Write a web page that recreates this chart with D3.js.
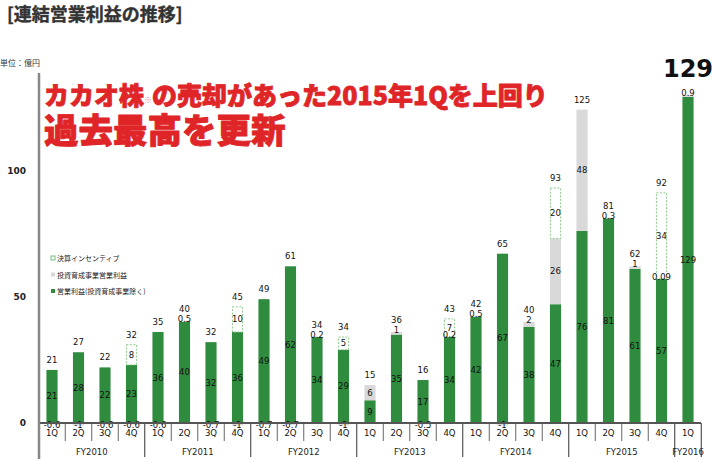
<!DOCTYPE html>
<html>
<head>
<meta charset="utf-8">
<script src="https://cdn.jsdelivr.net/npm/d3@7"></script>
<style>
  body { margin: 0; background: #fff; }
  text { font-family: "DejaVu Sans", sans-serif; }
  .jp { font-family: "Noto Sans CJK JP", sans-serif; }
</style>
</head>
<body>
<div id="chart"></div>
<script>
// --------------------------------------------------
// data (unit: 億円)

var years = ["FY2010", "FY2011", "FY2012", "FY2013", "FY2014", "FY2015", "FY2016"];
var quarters = ["1Q", "2Q", "3Q", "4Q", "1Q", "2Q", "3Q", "4Q", "1Q", "2Q", "3Q", "4Q",
    "1Q", "2Q", "3Q", "4Q", "1Q", "2Q", "3Q", "4Q", "1Q", "2Q", "3Q", "4Q", "1Q"];

// 営業利益(投資育成事業除く)
var mainProfit = [21, 28, 22, 23, 36, 40, 32, 36, 49, 62, 34, 29,
    9, 35, 17, 34, 42, 67, 38, 47, 76, 81, 61, 57, 129];
// 投資育成事業営業利益
var investProfit = [-0.6, -1, -0.6, -0.6, -0.6, 0.5, -0.7, -1, -0.7, -0.7, 0.2, -1,
    6, 1, -0.5, 0.2, 0.5, -1, 2, 26, 48, 0.3, 1, 0.09, 0.9];
// 決算インセンティブ
var incentive = [0, 0, 0, 8, 0, 0, 0, 10, 0, 0, 0, 5,
    0, 0, 0, 7, 0, 0, 0, 20, 0, 0, 0, 34, 0];
// totals printed above each bar
var totals = [21, 27, 22, 32, 35, 40, 32, 45, 49, 61, 34, 34,
    15, 36, 16, 43, 42, 65, 40, 93, 125, 81, 62, 92, 129];

var yTicks = [0, 50, 100];

var legendLabels = ["決算インセンティブ", "投資育成事業営業利益", "営業利益(投資育成事業除く)"];

var green = "#2f8b3d", gray = "#d9d9d9", dash = "#8fcb8f";

// --------------------------------------------------

var W = 712, H = 459;
var svg = d3.select("#chart").append("svg")
    .attr("width", W)
    .attr("height", H);

var keys = quarters.map(function(q, i) { return i; });

var x = d3.scaleBand()
    .domain(keys)
    .range([38.75, 701.25])
    .paddingInner(0.58)
    .paddingOuter(0.29);
var step = x.step();
function cx(i) { return x(i) + x.bandwidth() / 2; }

var y = d3.scaleLinear()
    .domain([0, 129])
    .range([423, 97]);

// title
svg.append("text")
    .attr("class", "jp")
    .attr("x", 7)
    .attr("y", 21)
    .attr("font-size", "18px")
    .attr("font-weight", "bold")
    .attr("fill", "#333")
    .attr("stroke", "#333")
    .attr("stroke-width", 0.4)
    .text("[連結営業利益の推移]");

svg.append("text")
    .attr("class", "jp")
    .attr("x", 0)
    .attr("y", 66)
    .attr("font-size", "8px")
    .attr("fill", "#333")
    .text("単位：億円");

// bars
var g = svg.append("g");

keys.forEach(function(i) {
    var m = mainProfit[i], v = investProfit[i], inc = incentive[i];
    var bx = x(i), bw = x.bandwidth();

    // green part
    g.append("rect")
        .attr("x", bx).attr("width", bw)
        .attr("y", y(m))
        .attr("height", y(0) - y(m))
        .attr("fill", green);

    // gray part (above green, or below zero when negative)
    var grayTop, grayBot;
    if (v >= 0) { grayBot = m; grayTop = m + v; }
    else { grayBot = v; grayTop = 0; }
    g.append("rect")
        .attr("x", bx).attr("width", bw)
        .attr("y", y(grayTop))
        .attr("height", y(grayBot) - y(grayTop))
        .attr("fill", gray);

    var top = v >= 0 ? m + v : m;

    // incentive dashed box
    if (inc > 0) {
        g.append("rect")
            .attr("x", bx + 0.5).attr("width", bw - 1)
            .attr("y", y(top + inc))
            .attr("height", y(top) - y(top + inc))
            .attr("fill", "#fff")
            .attr("stroke", dash)
            .attr("stroke-width", 1)
            .attr("stroke-dasharray", "2,1.5");
    }
});

// labels
var lab = svg.append("g")
    .attr("font-size", "8.5px")
    .attr("fill", "#111")
    .attr("text-anchor", "middle")
    .attr("dominant-baseline", "central");

keys.forEach(function(i) {
    var m = mainProfit[i], v = investProfit[i], inc = incentive[i];
    var c = cx(i);

    lab.append("text")
        .attr("x", c)
        .attr("y", y(m / 2))
        .text(m);

    var top = v >= 0 ? m + v : m;
    var gy;
    if (v < 0) {
        gy = y(0) + 2;
    } else if (y(m) - y(m + v) > 8) {
        gy = y(m + v / 2);
    } else {
        gy = y(m + v) - 2;
    }
    lab.append("text")
        .attr("x", c)
        .attr("y", gy)
        .text(v);

    var barTop = y(top + inc);
    if (inc > 0) {
        lab.append("text")
            .attr("x", c)
            .attr("y", y(top + inc / 2))
            .text(inc);
    }

    var ty = barTop - 10;
    if (v >= 0 && inc === 0 && gy - 10 < ty) ty = gy - 10;
    if (i === keys.length - 1) {
        lab.append("text")
            .attr("x", c)
            .attr("y", 69)
            .attr("font-family", "Liberation Sans, Arial, sans-serif")
            .attr("font-size", "24px")
            .attr("font-weight", "bold")
            .text(totals[i]);
    } else {
        lab.append("text")
            .attr("x", c)
            .attr("y", ty)
            .text(totals[i]);
    }
});

// x axis: quarter labels
var xAxis = d3.axisBottom(x)
    .tickSize(0)
    .tickPadding(7)
    .tickFormat(function(i) { return quarters[i]; });
var xg = svg.append("g")
    .attr("transform", "translate(0," + y(0) + ")")
    .call(xAxis);
xg.select(".domain").remove();
xg.selectAll("text")
    .attr("font-size", "8.5px")
    .attr("fill", "#111");

// quarter separators
keys.forEach(function(i) {
    var sx = x(i) + x.bandwidth() / 2 + step / 2;
    var yearEnd = (i % 4 === 3) || i === keys.length - 1;
    svg.append("line")
        .attr("x1", sx).attr("x2", sx)
        .attr("y1", y(0))
        .attr("y2", yearEnd ? 457 : 441)
        .attr("stroke", yearEnd ? "#333" : "#666")
        .attr("stroke-width", 1);
});

// year labels
years.forEach(function(yr, j) {
    var first = j * 4;
    var last = Math.min(first + 3, keys.length - 1);
    var x0 = x(first) + x.bandwidth() / 2 - step / 2;
    var x1 = x(last) + x.bandwidth() / 2 + step / 2;
    svg.append("text")
        .attr("x", (x0 + x1) / 2)
        .attr("y", 452)
        .attr("text-anchor", "middle")
        .attr("dominant-baseline", "central")
        .attr("font-size", "8.5px")
        .attr("fill", "#222")
        .text(yr);
});

// baseline
svg.append("line")
    .attr("x1", 39).attr("x2", 701)
    .attr("y1", y(0)).attr("y2", y(0))
    .attr("stroke", "#555")
    .attr("stroke-width", 2);

// y axis
var yAxis = d3.axisLeft(y)
    .tickValues(yTicks)
    .tickSize(0)
    .tickPadding(13);
var yg = svg.append("g")
    .attr("transform", "translate(39,0)")
    .call(yAxis);
yg.select(".domain").remove();
yg.selectAll("text")
    .attr("font-size", "9px")
    .attr("font-weight", "bold")
    .attr("fill", "#222");

svg.append("line")
    .attr("x1", 39).attr("x2", 39)
    .attr("y1", 73).attr("y2", H)
    .attr("stroke", "#888")
    .attr("stroke-width", 2.5);

// legend
var lg = svg.append("g").attr("transform", "translate(51,258)");
legendLabels.forEach(function(t, k) {
    var row = lg.append("g").attr("transform", "translate(0," + (k * 16.5) + ")");
    var sq = row.append("rect")
        .attr("x", 0).attr("y", -2)
        .attr("width", 4).attr("height", 4);
    if (k === 0) sq.attr("fill", "#fff").attr("stroke", "#5aad5a").attr("stroke-width", 0.8);
    if (k === 1) sq.attr("fill", gray);
    if (k === 2) sq.attr("fill", green);
    row.append("text")
        .attr("class", "jp")
        .attr("x", 6)
        .attr("y", 0)
        .attr("dominant-baseline", "central")
        .attr("font-size", "7px")
        .attr("fill", "#222")
        .text(t);
});

// red headline
var red = "#df2527";
var h1 = svg.append("text")
    .attr("class", "jp")
    .attr("x", 44)
    .attr("y", 105)
    .attr("font-size", "25px")
    .attr("font-weight", "900")
    .attr("fill", red)
    .attr("stroke", red)
    .attr("stroke-width", 0.8)
    .attr("stroke-linejoin", "round");
h1.append("tspan").text("カカオ株");
h1.append("tspan")
    .attr("font-size", "8px")
    .attr("fill", "#f08a8a")
    .attr("stroke", "none")
    .attr("dy", -2)
    .text("※");
h1.append("tspan")
    .attr("dy", 2)
    .text("の売却があった2015年1Qを上回り");

svg.append("text")
    .attr("class", "jp")
    .attr("x", 44)
    .attr("y", 143)
    .attr("font-size", "34.5px")
    .attr("font-weight", "900")
    .attr("fill", red)
    .attr("stroke", red)
    .attr("stroke-width", 0.9)
    .attr("stroke-linejoin", "round")
    .text("過去最高を更新");
</script>
</body>
</html>
